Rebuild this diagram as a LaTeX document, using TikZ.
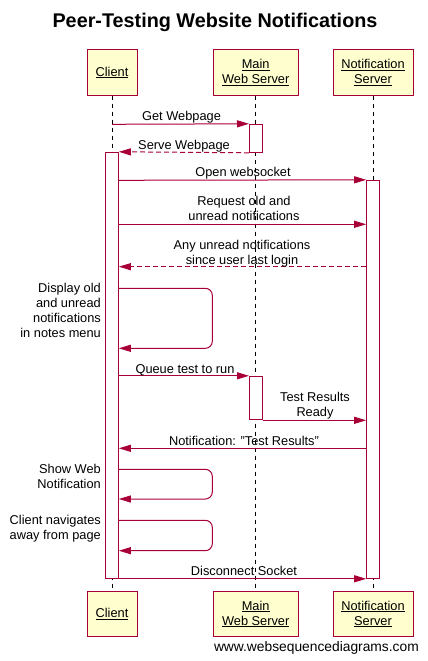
\documentclass[tikz,border=0pt]{standalone}
\usepackage{fontspec}
\setmainfont{Liberation Sans}
\usetikzlibrary{arrows.meta}
\definecolor{wsdred}{HTML}{A80036}
\definecolor{wsdfill}{HTML}{FEFECE}
\begin{document}
\begin{tikzpicture}[x=1pt,y=-1pt,
  txt/.style={font=\fontsize{12.8}{15}\selectfont},
  part/.style={txt, draw=wsdred, fill=wsdfill, line width=1pt, minimum height=45pt, align=center, inner sep=0pt},
  act/.style={draw=wsdred, fill=white, line width=1pt, minimum width=12.6pt, inner sep=0pt},
  life/.style={black, line width=1pt, dash pattern=on 4pt off 4pt},
  msg/.style={wsdred, line width=1pt, -{Triangle[length=12pt,width=7pt]}},
  ret/.style={msg, dash pattern=on 5pt off 3pt},
  self/.style={msg, rounded corners=7pt},
  lbl/.style={txt, align=center, inner sep=0pt, anchor=base},
  note/.style={txt, align=right, inner sep=0pt, anchor=base east}
]
\useasboundingbox (0,0) rectangle (428,661);

% title
\node[font=\fontsize{19.8}{24}\selectfont\bfseries, anchor=base, inner sep=0pt] (title) at (215,27.3) {Peer-Testing Website Notifications};

% participants
\node[part, minimum width=50pt] (c) at (112,72.5) {\underline{Client}};
\node[part, minimum width=85pt] (m) at (255.7,72.5) {\underline{Main}\\\underline{Web Server}};
\node[part, minimum width=80pt] (n) at (373,72.5) {\underline{Notification}\\\underline{Server}};
\node[part, minimum width=50pt] (cb) at (112,614) {\underline{Client}};
\node[part, minimum width=85pt] (mb) at (255.7,614) {\underline{Main}\\\underline{Web Server}};
\node[part, minimum width=80pt] (nb) at (373,614) {\underline{Notification}\\\underline{Server}};

% lifelines
\draw[life] (c) -- (cb);
\draw[life] (m) -- (mb);
\draw[life] (n) -- (nb);

% activations
\node[act, minimum height=28pt] (ma1) at (255.8,138.3) {};
\node[act, minimum height=426pt] (ca) at (112,365.3) {};
\node[act, minimum height=398pt] (na) at (373,379.3) {};
\node[act, minimum height=43pt] (ma2) at (255.8,397.8) {};

% y levels
\coordinate (y1) at (0,124.3);
\coordinate (y3) at (0,180.3);
\coordinate (y4) at (0,224.3);
\coordinate (y5) at (0,266.7);
\coordinate (y6a) at (0,288.3);
\coordinate (y6b) at (0,348.3);
\coordinate (y8) at (0,420.3);
\coordinate (y9) at (0,448.3);
\coordinate (y10a) at (0,469.3);
\coordinate (y10b) at (0,499);
\coordinate (y11a) at (0,520.3);
\coordinate (y11b) at (0,550.7);
\coordinate (loopx) at (212.3,0);

% 1 Get Webpage
\draw[msg] (c |- y1) -- (ma1.north west);
\node[lbl] (l1) at (181.5,120.7) {Get Webpage};
% 2 Serve Webpage
\draw[ret] (ma1.south west) -- (ca.north east);
\node[lbl] (l2) at (184,149) {Serve Webpage};
% 3 Open websocket
\draw[msg] (ca.east |- y3) -- (na.north west);
\node[lbl] (l3) at (243,176.7) {Open websocket};
% 4 Request
\draw[msg] (ca.east |- y4) -- (na.west |- y4);
\node[lbl] (l4) at (244,220.3) {Request old and\\unread notifications};
% 5 Any unread
\draw[ret] (na.west |- y5) -- (ca.east |- y5);
\node[lbl] (l5) at (242,264) {Any unread notifications\\since user last login};
% 6 Display (self)
\draw[self] (ca.east |- y6a) -- (loopx |- y6a) -- (loopx |- y6b) -- (ca.east |- y6b);
\node[note] (l6) at (101,337.7) {Display old\\and unread\\notifications\\in notes menu};
% 7 Queue test
\draw[msg] (ca.east |- ma2.north) -- (ma2.north west);
\node[lbl] (l7) at (185,373.5) {Queue test to run};
% 8 Test results ready
\draw[msg] (ma2.east |- y8) -- (na.west |- y8);
\node[lbl] (l8) at (315,416.7) {Test Results\\Ready};
% 9 Notification
\draw[msg] (na.west |- y9) -- (ca.east |- y9);
\node[lbl] (l9) at (244,445.7) {Notification: "Test Results"};
% 10 Show web notification
\draw[self] (ca.east |- y10a) -- (loopx |- y10a) -- (loopx |- y10b) -- (ca.east |- y10b);
\node[note] (l10) at (101,488.7) {Show Web\\Notification};
% 11 navigates away
\draw[self] (ca.east |- y11a) -- (loopx |- y11a) -- (loopx |- y11b) -- (ca.east |- y11b);
\node[note] (l11) at (101,539.3) {Client navigates\\away from page};
% 12 Disconnect
\draw[msg] (ca.south east) -- (na.south west);
\node[lbl] (l12) at (244,575.7) {Disconnect Socket};

% watermark
\node[font=\fontsize{13.8}{16}\selectfont, anchor=base east, inner sep=0pt] (wm) at (419,651) {www.websequencediagrams.com};
\end{tikzpicture}
\end{document}
